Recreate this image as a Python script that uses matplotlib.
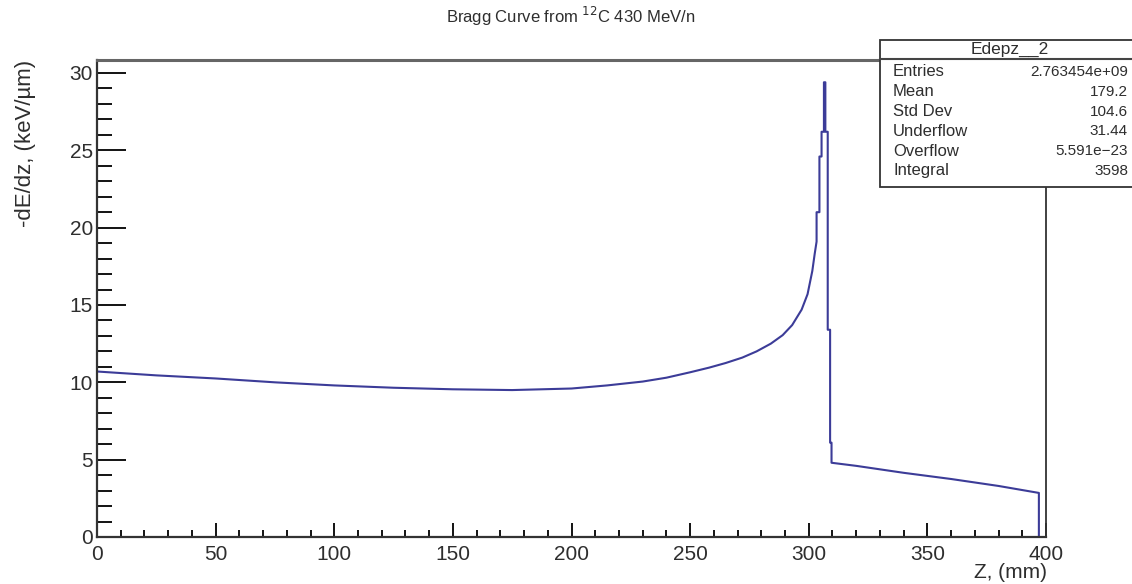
import numpy as np
import matplotlib.pyplot as plt
from matplotlib.patches import Rectangle
from matplotlib.ticker import MultipleLocator

plt.rcParams['font.family'] = ['Liberation Sans', 'DejaVu Sans']

# depth (mm) and energy deposit (keV/um)
z_mm = [0, 25, 50, 75, 100, 125, 150, 175, 200,
        215, 230, 240, 250, 258, 265, 272, 278, 284, 289, 293, 297,
        299.5, 301.5, 302.5, 303.3, 303.3, 304.5, 304.5, 305.4, 305.4,
        306.4, 306.4, 307.0, 307.0, 308.0, 308.0, 309.0, 309.0, 309.6, 309.6,
        320, 340, 360, 380, 397, 397]
dedz = [10.7, 10.45, 10.25, 10.0, 9.8, 9.65, 9.55, 9.5, 9.6,
        9.8, 10.05, 10.3, 10.65, 10.95, 11.25, 11.6, 12.0, 12.5, 13.05, 13.7, 14.7,
        15.7, 17.2, 18.3, 19.1, 21.0, 21.0, 24.6, 24.6, 26.2,
        26.2, 29.4, 29.4, 26.2, 26.2, 13.4, 13.4, 6.1, 6.1, 4.8,
        4.6, 4.15, 3.75, 3.3, 2.85, 0]

stat_names = ["Entries", "Mean", "Std Dev", "Underflow", "Overflow", "Integral"]
stat_values = ["2.763454e+09", "179.2", "104.6", "31.44", "5.591e\u221223", "3598"]

W, H = 1132, 584
fig = plt.figure(figsize=(W / 100, H / 100), dpi=100)
ax = fig.add_axes([97 / W, 1 - 537 / H, 949 / W, 477 / H])

ax.plot(z_mm, dedz, color='#3c3c98', lw=1.5)

ax.set_xlim(0, 400)
ax.set_ylim(0, 30.84)
ax.xaxis.set_major_locator(MultipleLocator(50))
ax.xaxis.set_minor_locator(MultipleLocator(10))
ax.yaxis.set_major_locator(MultipleLocator(5))
ax.yaxis.set_minor_locator(MultipleLocator(1))

txt = '#2e2e2e'
ax.tick_params(axis='x', which='major', direction='in', length=10, width=1.3,
               pad=6, labelsize=15, labelcolor=txt)
ax.tick_params(axis='x', which='minor', direction='in', length=5, width=1.3)
ax.tick_params(axis='y', which='major', direction='in', length=21, width=1.3,
               pad=3, labelsize=15, labelcolor=txt)
ax.tick_params(axis='y', which='minor', direction='in', length=10.5, width=1.3)

for side in ['left', 'bottom']:
    ax.spines[side].set_linewidth(1.6)
    ax.spines[side].set_color('#333333')
ax.spines['top'].set_linewidth(2.2)
ax.spines['top'].set_color('#666666')
ax.spines['right'].set_linewidth(1.3)
ax.spines['right'].set_color('#333333')

fig.text(571 / W, 1 - 16 / H, r"Bragg Curve from $^{12}$C 430 MeV/n",
         ha='center', va='center', fontsize=12, color=txt)
fig.text(26 / W, 1 - 60 / H, "-dE/dz, (keV/\u00b5m)", rotation=90,
         ha='center', va='top', fontsize=16, color=txt)
fig.text(1047 / W, 2 / H, "Z, (mm)", ha='right', va='bottom',
         fontsize=15, color=txt)

# stats box (runs off the right edge like in the original)
bx0, by0, by1 = 880, 40, 187
fig.patches.append(Rectangle((bx0 / W, 1 - by1 / H), (W + 20 - bx0) / W,
                             (by1 - by0) / H, transform=fig.transFigure,
                             facecolor='white', edgecolor='#333333', lw=1.3,
                             zorder=5, clip_on=False))
fig.text(1010 / W, 1 - 49 / H, "Edepz__2", ha='center', va='center',
         fontsize=12.5, color=txt, zorder=6)
fig.lines.append(plt.Line2D([bx0 / W, 1.0], [1 - 59 / H, 1 - 59 / H],
                            transform=fig.transFigure, color='#444444',
                            lw=1.5, zorder=6))
for i, (name, val) in enumerate(zip(stat_names, stat_values)):
    y = 1 - (72 + i * 19.8) / H
    fig.text(893 / W, y, name, ha='left', va='center', fontsize=12,
             color=txt, zorder=6)
    fig.text(1128 / W, y, val, ha='right', va='center', fontsize=11,
             color=txt, zorder=6)

fig.savefig('out.png', dpi=100, facecolor='white')
